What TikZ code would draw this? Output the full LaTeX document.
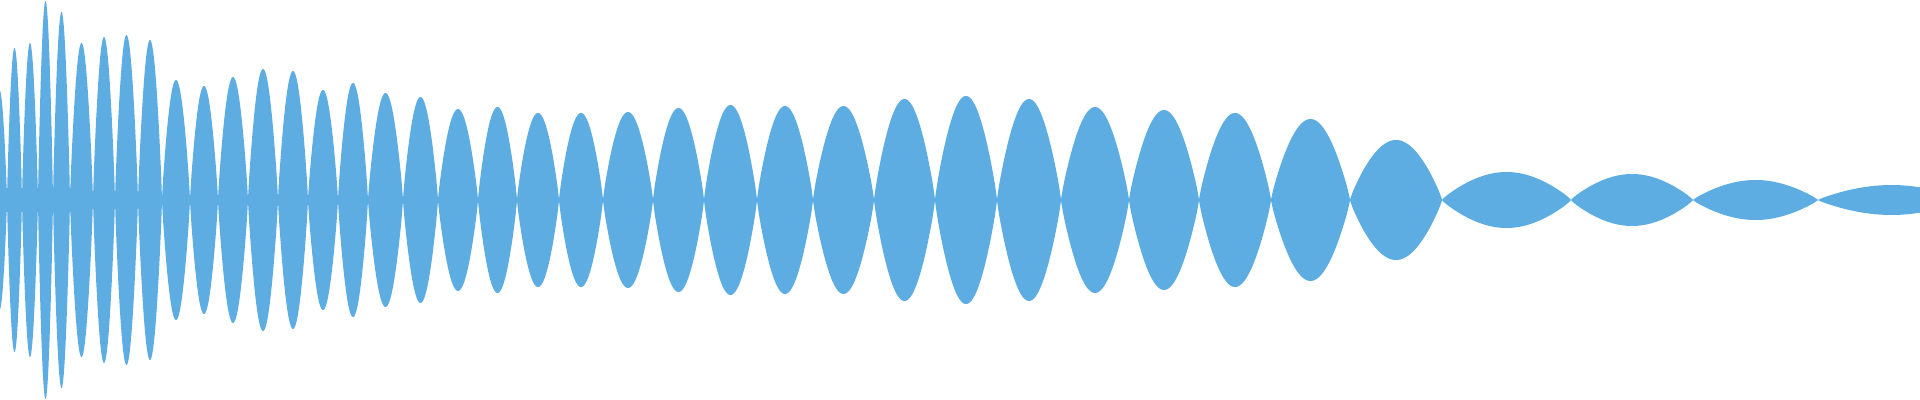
\documentclass[tikz,border=0pt]{standalone}
\definecolor{wavec}{RGB}{93,173,226}
\begin{document}
\begin{tikzpicture}[x=0.01cm,y=0.01cm,wave/.style={fill=wavec}]
\useasboundingbox (0,-200) rectangle (1920,200);
\clip (0,-200) rectangle (1920,200);
\fill[wave] (0,-12) rectangle (92,12);
\foreach \a/\b/\h in {-8/7/110, 7/22/152, 22/38/157, 38/53/199, 53/70/188, 70/93/157, 93/115/163, 115/138/165, 138/162/160, 162/190/120, 190/218/114, 218/248/123, 248/278/131, 278/308/129, 308/338/110, 338/368/117, 368/403/107, 403/438/103, 438/478/91,
478/517/93, 517/559/87, 559/603/87, 603/653/88, 653/704/92, 704/757/95, 757/813/94, 813/874/94, 874/935/101, 935/997/104, 997/1061/101, 1061/1129/93, 1129/1199/90,
1199/1271/87, 1271/1350/81, 1350/1442/60, 1442/1571/28, 1571/1693/26, 1693/1818/20, 1818/1965/15}
{
  \fill[wave] (\a,0) -- plot[domain=0.005:0.995,samples=50] ({\a+(\b-\a)*\x},{\h*sin(180*\x)^0.85})
    -- (\b,0) -- plot[domain=0.995:0.005,samples=50] ({\a+(\b-\a)*\x},{-\h*sin(180*\x)^0.85}) -- cycle;
}
\end{tikzpicture}
\end{document}
